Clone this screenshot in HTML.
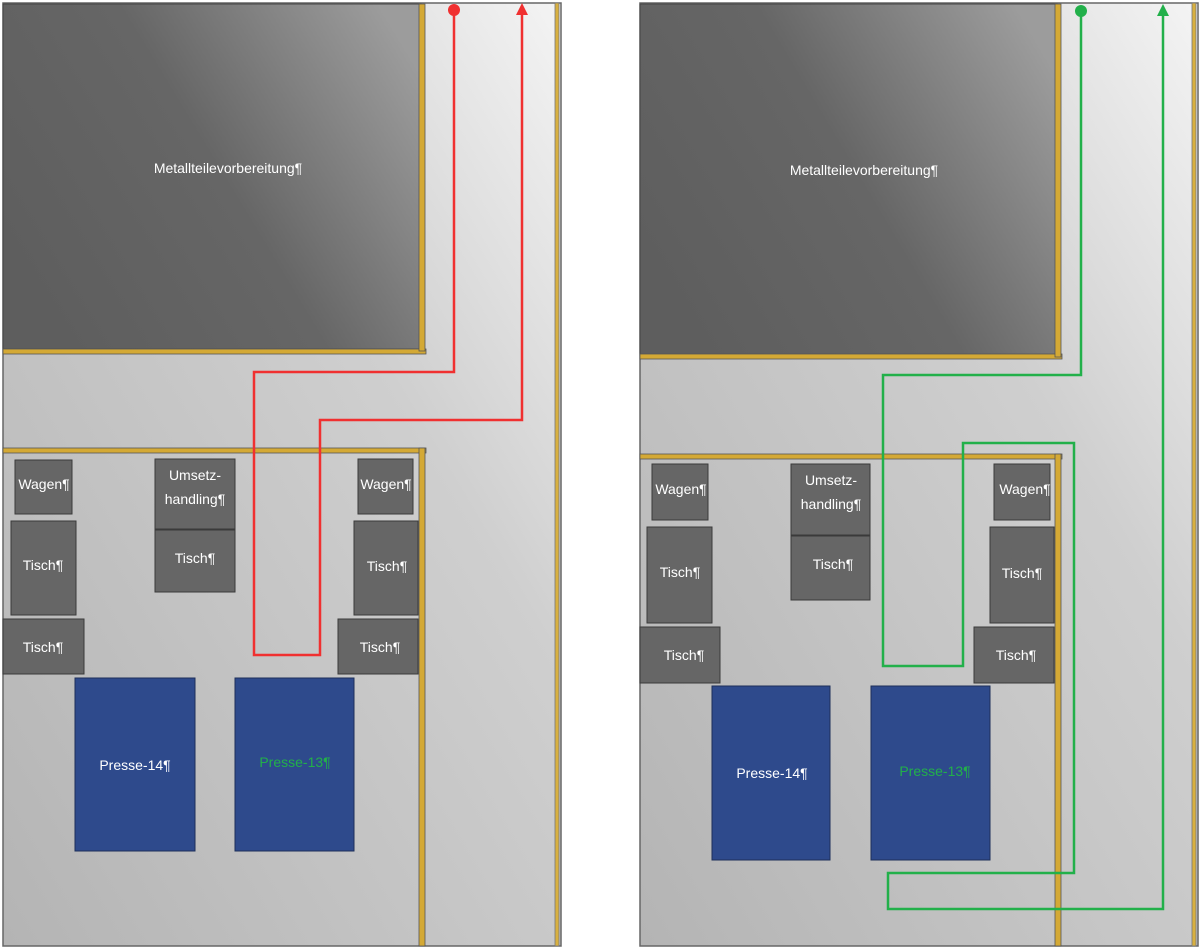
<!DOCTYPE html>
<html><head><meta charset="utf-8"><style>
html,body{margin:0;padding:0;background:#fff;width:1200px;height:949px;overflow:hidden}
svg text{font-family:"Liberation Sans",sans-serif;font-size:14px;fill:#fff}
</style></head><body>
<svg width="1200" height="949" viewBox="0 0 1200 949" xmlns="http://www.w3.org/2000/svg">
<defs>
<linearGradient id="bg" x1="1" y1="0" x2="0" y2="1">
<stop offset="0" stop-color="#f4f4f4"/><stop offset="0.35" stop-color="#cfcfcf"/><stop offset="1" stop-color="#b4b4b4"/></linearGradient>
<linearGradient id="dk" x1="0" y1="0.7" x2="1" y2="0.2">
<stop offset="0" stop-color="#5e5e5e"/><stop offset="0.5" stop-color="#666"/><stop offset="1" stop-color="#9c9c9c"/></linearGradient>
</defs>

<!-- LEFT -->
<rect x="3" y="3" width="558" height="943" fill="url(#bg)" stroke="#666" stroke-width="1.5"/>
<rect x="555" y="3" width="4" height="943" fill="#d8b040" stroke="#777" stroke-width="0.8"/>
<rect x="3" y="4" width="418" height="345" fill="url(#dk)" stroke="#444" stroke-width="1"/>
<rect x="3" y="349" width="423" height="5" fill="#d4a935" stroke="#555" stroke-width="0.8"/>
<rect x="419" y="4" width="6" height="347" fill="#d4a935" stroke="#555" stroke-width="0.8"/>
<rect x="3" y="448" width="423" height="5" fill="#d4a935" stroke="#555" stroke-width="0.8"/>
<rect x="419" y="448" width="6" height="498" fill="#d4a935" stroke="#555" stroke-width="0.8"/>
<text x="228" y="173" text-anchor="middle">Metallteilevorbereitung¶</text>
<g fill="#666" stroke="#3a3a3a" stroke-width="1">
<rect x="15" y="460" width="57" height="54"/>
<rect x="11" y="521" width="65" height="94"/>
<rect x="3" y="619" width="81" height="55"/>
<rect x="155" y="459" width="80" height="70"/>
<rect x="155" y="530" width="80" height="62"/>
<rect x="358" y="459" width="55" height="55"/>
<rect x="354" y="521" width="64" height="94"/>
<rect x="338" y="619" width="80" height="55"/>
</g>
<g fill="#2e4a8c" stroke="#1d2f5a" stroke-width="1">
<rect x="75" y="678" width="120" height="173"/>
<rect x="235" y="678" width="119" height="173"/>
</g>
<text x="44" y="489" text-anchor="middle">Wagen¶</text>
<text x="43" y="570" text-anchor="middle">Tisch¶</text>
<text x="43" y="652" text-anchor="middle">Tisch¶</text>
<text x="195" y="480" text-anchor="middle">Umsetz-</text>
<text x="195" y="504" text-anchor="middle">handling¶</text>
<text x="195" y="563" text-anchor="middle">Tisch¶</text>
<text x="386" y="489" text-anchor="middle">Wagen¶</text>
<text x="387" y="571" text-anchor="middle">Tisch¶</text>
<text x="380" y="652" text-anchor="middle">Tisch¶</text>
<text x="135" y="770" text-anchor="middle">Presse-14¶</text>
<text x="295" y="767" text-anchor="middle" style="fill:#22b04a">Presse-13¶</text>
<polyline points="454,10 454,372 254,372 254,655 320,655 320,420 522,420 522,12" fill="none" stroke="#f03030" stroke-width="2.5"/>
<circle cx="454" cy="10" r="6" fill="#f03030"/>
<polygon points="522,3 516,15 528,15" fill="#f03030"/>

<!-- RIGHT -->
<rect x="640" y="3" width="558" height="943" fill="url(#bg)" stroke="#666" stroke-width="1.5"/>
<rect x="1192" y="3" width="4" height="943" fill="#d8b040" stroke="#777" stroke-width="0.8"/>
<rect x="640" y="4" width="417" height="351" fill="url(#dk)" stroke="#444" stroke-width="1"/>
<rect x="640" y="354" width="422" height="5" fill="#d4a935" stroke="#555" stroke-width="0.8"/>
<rect x="1055" y="4" width="6" height="353" fill="#d4a935" stroke="#555" stroke-width="0.8"/>
<rect x="640" y="454" width="422" height="5" fill="#d4a935" stroke="#555" stroke-width="0.8"/>
<rect x="1055" y="454" width="6" height="492" fill="#d4a935" stroke="#555" stroke-width="0.8"/>
<text x="864" y="175" text-anchor="middle">Metallteilevorbereitung¶</text>
<g fill="#666" stroke="#3a3a3a" stroke-width="1">
<rect x="652" y="464" width="56" height="56"/>
<rect x="647" y="527" width="65" height="96"/>
<rect x="640" y="627" width="80" height="56"/>
<rect x="791" y="464" width="79" height="71"/>
<rect x="791" y="536" width="79" height="64"/>
<rect x="994" y="464" width="56" height="56"/>
<rect x="990" y="527" width="64" height="96"/>
<rect x="974" y="627" width="80" height="56"/>
</g>
<g fill="#2e4a8c" stroke="#1d2f5a" stroke-width="1">
<rect x="712" y="686" width="118" height="174"/>
<rect x="871" y="686" width="119" height="174"/>
</g>
<text x="681" y="494" text-anchor="middle">Wagen¶</text>
<text x="680" y="577" text-anchor="middle">Tisch¶</text>
<text x="684" y="660" text-anchor="middle">Tisch¶</text>
<text x="831" y="485" text-anchor="middle">Umsetz-</text>
<text x="831" y="509" text-anchor="middle">handling¶</text>
<text x="833" y="569" text-anchor="middle">Tisch¶</text>
<text x="1025" y="494" text-anchor="middle">Wagen¶</text>
<text x="1022" y="578" text-anchor="middle">Tisch¶</text>
<text x="1016" y="660" text-anchor="middle">Tisch¶</text>
<text x="772" y="778" text-anchor="middle">Presse-14¶</text>
<text x="935" y="776" text-anchor="middle" style="fill:#22b04a">Presse-13¶</text>
<polyline points="1081,11 1081,375 883,375 883,666 963,666 963,443 1074,443 1074,873 888,873 888,909 1163,909 1163,12" fill="none" stroke="#22b04a" stroke-width="2.5"/>
<circle cx="1081" cy="11" r="6" fill="#22b04a"/>
<polygon points="1163,4 1157,16 1169,16" fill="#22b04a"/>
</svg>
</body></html>
